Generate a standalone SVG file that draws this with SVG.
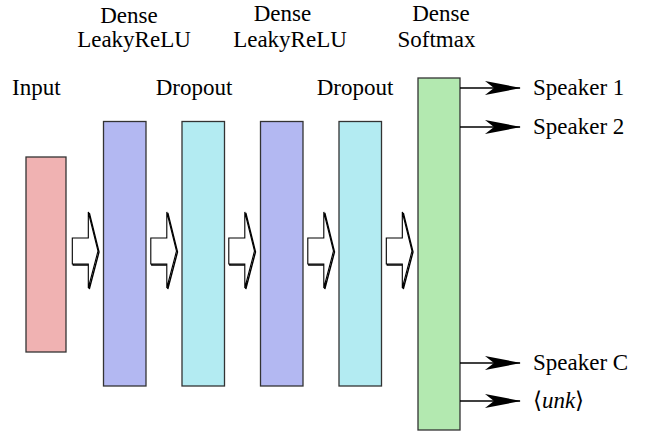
<svg xmlns="http://www.w3.org/2000/svg" xmlns:xlink="http://www.w3.org/1999/xlink" width="652" height="432" viewBox="0 0 652 432">
<style>
text{font-family:'Liberation Serif','Times New Roman',Times,serif;font-size:23px;fill:#000}
.box{stroke:#333;stroke-width:1.3}
.input{fill:#f0b2b2}
.dense{fill:#b3b8f2}
.drop{fill:#b3ebf2}
.soft{fill:#b3e9b0}
.out{stroke:#000;stroke-width:1.6;fill:none}
.big{fill:#fff;stroke:#000;stroke-width:1.1;stroke-linejoin:miter}
.shadow{fill:none;stroke:#000;stroke-width:1.4}
</style>
<defs>
<marker id="stealth" viewBox="0 0 36 16" refX="35" refY="8" markerWidth="36" markerHeight="16" markerUnits="userSpaceOnUse" orient="auto">
<path d="M0,1 L36,8 L0,15 L9,8 Z" fill="#000"/>
</marker>
<g id="bigarrow">
<polygon class="shadow" points="73.3,239 89.3,239 89.3,213 99,252 89.3,289 89.3,265 73.3,265"/>
<polygon class="big" points="72.3,238 88.3,238 88.3,212 98,251 88.3,288 88.3,264 72.3,264"/>
</g>
</defs>
<g id="node-input">
<rect class="box input" x="26" y="157" width="40" height="195"/>
<text x="12" y="95">Input</text>
</g>
<g id="node-dense1">
<rect class="box dense" x="103.5" y="121.5" width="42.5" height="264.5"/>
<text x="129" y="23" text-anchor="middle">Dense</text>
<text x="134" y="47" text-anchor="middle">LeakyReLU</text>
</g>
<g id="node-dropout1">
<rect class="box drop" x="182" y="121.5" width="42.5" height="264.5"/>
<text x="194" y="95" text-anchor="middle">Dropout</text>
</g>
<g id="node-dense2">
<rect class="box dense" x="260.5" y="121.5" width="42.5" height="264.5"/>
<text x="282.5" y="21" text-anchor="middle">Dense</text>
<text x="290" y="47" text-anchor="middle">LeakyReLU</text>
</g>
<g id="node-dropout2">
<rect class="box drop" x="339" y="121.5" width="42.5" height="264.5"/>
<text x="355" y="95" text-anchor="middle">Dropout</text>
</g>
<g id="node-softmax">
<rect class="box soft" x="418" y="78" width="42" height="352"/>
<text x="441" y="21" text-anchor="middle">Dense</text>
<text x="436.5" y="47" text-anchor="middle">Softmax</text>
</g>
<g id="node-outputs">
<text x="533" y="95">Speaker 1</text>
<text x="533" y="134">Speaker 2</text>
<text x="533" y="370">Speaker C</text>
<text x="533" y="408">⟨<tspan font-style="italic">unk</tspan>⟩</text>
</g>
<g id="connectors">
<use xlink:href="#bigarrow"/>
<use xlink:href="#bigarrow" transform="translate(78.5,0)"/>
<use xlink:href="#bigarrow" transform="translate(156.5,0)"/>
<use xlink:href="#bigarrow" transform="translate(235.5,0)"/>
<use xlink:href="#bigarrow" transform="translate(314,0)"/>
<line class="out" x1="460" y1="88" x2="520" y2="88" marker-end="url(#stealth)"/>
<line class="out" x1="460" y1="127" x2="520" y2="127" marker-end="url(#stealth)"/>
<line class="out" x1="460" y1="363" x2="520" y2="363" marker-end="url(#stealth)"/>
<line class="out" x1="460" y1="401" x2="520" y2="401" marker-end="url(#stealth)"/>
</g>
</svg>
